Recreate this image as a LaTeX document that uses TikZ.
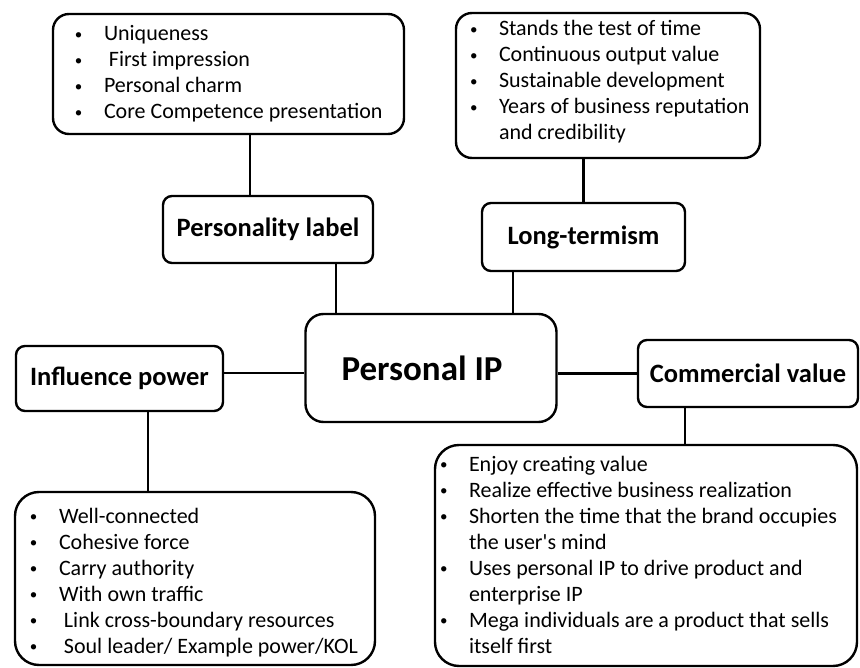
\documentclass[tikz,border=0pt]{standalone}
\usepackage{fontspec}
\setmainfont{Carlito}
\newcommand{\dotmark}{\raisebox{1.5pt}{\fontsize{15}{15}\selectfont\textbullet}}
\newcommand{\itm}[1]{\strut\makebox[30pt][l]{\hspace*{1pt}\dotmark}#1}
\newcommand{\cnt}[1]{\strut\hspace*{30pt}#1}

\begin{document}
\begin{tikzpicture}[x=1pt,y=-1pt,line width=2.4pt,
hbox/.style={draw, rounded corners=9pt, inner sep=0pt,
  font=\fontsize{26.5}{31}\selectfont\bfseries},
lbox/.style={draw, rounded corners=16pt, inner sep=0pt},
ltext/.style={anchor=north west, inner sep=0pt, align=left,
  font=\fontsize{22}{26}\selectfont}
]
\useasboundingbox (0,0) rectangle (860,668);

% top row
\node[lbox, minimum width=351pt, minimum height=120pt] (uniqbox) at (228.5,74) {};
\node[ltext] (uniqtext) at ([shift={(21,8.8)}]uniqbox.north west)
  {\itm{Uniqueness}\\ \itm{\hspace*{5pt}First impression}\\
   \itm{Personal charm}\\ \itm{Core Competence presentation}};
\node[lbox, minimum width=304pt, minimum height=145pt] (timebox) at (608,85.5) {};
\node[ltext] (timetext) at ([shift={(13,4.8)}]timebox.north west)
  {\itm{Stands the test of time}\\ \itm{Continuous output value}\\
   \itm{Sustainable development}\\ \itm{Years of business reputation}\\
   \cnt{and credibility}};

\node[hbox, minimum width=210pt, minimum height=67pt] (perslabel) at (268,229.5) {Personality label};
\node[hbox, minimum width=203pt, minimum height=68pt] (longterm) at (583.5,237) {Long-termism};

% middle row
\node[hbox, rounded corners=18pt, minimum width=251pt, minimum height=108pt,
  font=\fontsize{35}{40}\selectfont\bfseries] (personalip) at (431,368) {Personal IP\hspace*{18pt}};
\node[hbox, minimum width=207pt, minimum height=65pt] (influence) at (119.5,378.5) {Influence power};
\node[hbox, minimum width=220pt, minimum height=67pt] (commercial) at (748,373.5) {Commercial value};

% bottom row
\node[lbox, rounded corners=24pt, minimum width=360pt, minimum height=173pt] (linkbox) at (195,578.5) {};
\node[ltext] (linktext) at ([shift={(14,12.8)}]linkbox.north west)
  {\itm{Well-connected}\\ \itm{Cohesive force}\\ \itm{Carry authority}\\
   \itm{With own traffic}\\ \itm{\hspace*{5pt}Link cross-boundary resources}\\
   \itm{\hspace*{5pt}Soul leader/ Example power/KOL}};
\node[lbox, rounded corners=24pt, minimum width=422pt, minimum height=221pt] (valuebox) at (646,555.5) {};
\node[ltext] (valuetext) at ([shift={(4,7.8)}]valuebox.north west)
  {\itm{Enjoy creating value}\\ \itm{Realize effective business realization}\\
   \itm{Shorten the time that the brand occupies}\\ \cnt{the user\textquotesingle s mind}\\
   \itm{Uses personal IP to drive product and}\\ \cnt{enterprise IP}\\
   \itm{Mega individuals are a product that sells}\\ \cnt{itself first}};

\draw ([xshift=21.5pt]uniqbox.south) -- ([xshift=21.5pt]uniqbox.south |- perslabel.north);
\draw ([xshift=68pt]perslabel.south) -- ([xshift=68pt]perslabel.south |- personalip.north);
\draw (longterm.north) -- (longterm.north |- timebox.south);
\draw ([xshift=-70.5pt]longterm.south) -- ([xshift=-70.5pt]longterm.south |- personalip.north);
\draw ([yshift=5.5pt]influence.east) -- ([yshift=5.5pt]influence.east -| personalip.west);
\draw (commercial.west) -- (commercial.west -| personalip.east);
\draw ([xshift=28.5pt]influence.south) -- ([xshift=28.5pt]influence.south |- linkbox.north);
\draw ([xshift=-63pt]commercial.south) -- ([xshift=-63pt]commercial.south |- valuebox.north);

\end{tikzpicture}
\end{document}
